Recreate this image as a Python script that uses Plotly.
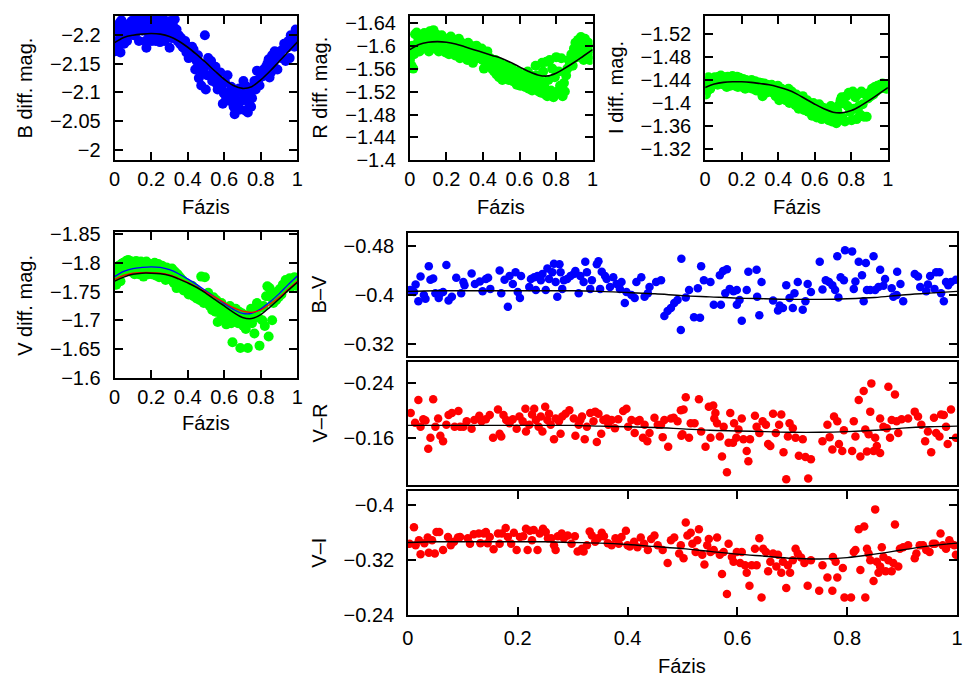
import plotly.graph_objects as go

W, H = 964, 684

# ---------------- data ----------------
PHASE_TOP = [
    0.000,0.004,0.009,0.014,0.018,0.023,0.028,0.032,0.037,0.043,
    0.047,0.052,0.058,0.063,0.068,0.074,0.079,0.086,0.093,0.098,
    0.104,0.109,0.114,0.118,0.124,0.129,0.133,0.138,0.144,0.149,
    0.153,0.158,0.164,0.169,0.174,0.179,0.184,0.189,0.195,0.199,
    0.204,0.208,0.214,0.219,0.224,0.228,0.233,0.239,0.244,0.248,
    0.254,0.259,0.263,0.268,0.274,0.279,0.284,0.289,0.294,0.301,
    0.305,0.309,0.314,0.319,0.324,0.329,0.334,0.339,0.345,0.351,
    0.358,0.364,0.371,0.378,0.386,0.393,0.398,0.405,0.412,0.418,
    0.424,0.432,0.441,0.449,0.456,0.461,0.468,0.474,0.481,0.488,
    0.494,0.499,0.506,0.512,0.521,0.528,0.534,0.541,0.546,0.552,
    0.558,0.564,0.571,0.578,0.585,0.592,0.598,0.604,0.611,0.618,
    0.624,0.631,0.638,0.645,0.651,0.657,0.663,0.669,0.676,0.682,
    0.688,0.694,0.699,0.705,0.711,0.718,0.724,0.729,0.736,0.741,
    0.747,0.752,0.758,0.765,0.772,0.779,0.786,0.793,0.801,0.808,
    0.815,0.822,0.829,0.836,0.843,0.848,0.855,0.862,0.869,0.876,
    0.884,0.891,0.898,0.906,0.913,0.921,0.928,0.936,0.943,0.951,
    0.958,0.964,0.971,0.977,0.984,0.991,0.997]

B_MAG = [
    -2.182,-2.172,-2.190,-2.178,-2.215,-2.205,-2.222,-2.170,-2.226,-2.192,
    -2.215,-2.185,-2.198,-2.212,-2.190,-2.205,-2.220,-2.210,-2.225,-2.215,
    -2.200,-2.228,-2.218,-2.205,-2.222,-2.212,-2.190,-2.225,-2.215,-2.230,
    -2.208,-2.220,-2.235,-2.190,-2.178,-2.212,-2.225,-2.200,-2.230,-2.215,
    -2.190,-2.222,-2.205,-2.228,-2.190,-2.218,-2.200,-2.235,-2.210,-2.188,
    -2.225,-2.215,-2.200,-2.228,-2.190,-2.212,-2.222,-2.200,-2.215,-2.178,
    -2.225,-2.210,-2.195,-2.218,-2.205,-2.228,-2.198,-2.210,-2.190,-2.200,
    -2.185,-2.195,-2.180,-2.178,-2.190,-2.170,-2.180,-2.160,-2.172,-2.165,
    -2.180,-2.175,-2.140,-2.155,-2.165,-2.125,-2.150,-2.112,-2.135,-2.142,
    -2.200,-2.105,-2.130,-2.160,-2.148,-2.155,-2.120,-2.140,-2.130,-2.145,
    -2.115,-2.105,-2.120,-2.135,-2.110,-2.080,-2.098,-2.118,-2.090,-2.130,
    -2.100,-2.085,-2.110,-2.095,-2.075,-2.062,-2.088,-2.100,-2.080,-2.107,
    -2.070,-2.085,-2.100,-2.120,-2.092,-2.068,-2.110,-2.065,-2.080,-2.098,
    -2.075,-2.090,-2.110,-2.120,-2.105,-2.138,-2.122,-2.112,-2.135,-2.128,
    -2.140,-2.130,-2.145,-2.150,-2.158,-2.126,-2.135,-2.165,-2.150,-2.172,
    -2.162,-2.140,-2.165,-2.172,-2.160,-2.175,-2.185,-2.155,-2.178,-2.190,
    -2.160,-2.200,-2.182,-2.195,-2.180,-2.210,-2.188]

R_MAG = [
    -1.575,-1.590,-1.565,-1.600,-1.560,-1.585,-1.620,-1.597,-1.623,-1.605,
    -1.612,-1.590,-1.618,-1.603,-1.615,-1.596,-1.622,-1.610,-1.600,-1.618,
    -1.590,-1.625,-1.605,-1.595,-1.615,-1.627,-1.610,-1.595,-1.620,-1.605,
    -1.615,-1.590,-1.612,-1.600,-1.618,-1.603,-1.595,-1.610,-1.588,-1.605,
    -1.598,-1.612,-1.585,-1.600,-1.616,-1.590,-1.605,-1.595,-1.610,-1.583,
    -1.600,-1.608,-1.590,-1.612,-1.578,-1.598,-1.605,-1.588,-1.596,-1.583,
    -1.600,-1.590,-1.575,-1.605,-1.595,-1.583,-1.600,-1.592,-1.570,-1.595,
    -1.585,-1.600,-1.578,-1.590,-1.582,-1.595,-1.575,-1.560,-1.585,-1.572,
    -1.590,-1.565,-1.578,-1.560,-1.570,-1.555,-1.575,-1.550,-1.565,-1.545,
    -1.570,-1.555,-1.540,-1.560,-1.548,-1.565,-1.552,-1.540,-1.558,-1.545,
    -1.560,-1.538,-1.550,-1.545,-1.532,-1.555,-1.540,-1.530,-1.548,-1.535,
    -1.545,-1.528,-1.540,-1.555,-1.525,-1.535,-1.548,-1.522,-1.540,-1.530,
    -1.565,-1.548,-1.530,-1.520,-1.540,-1.518,-1.570,-1.555,-1.528,-1.515,
    -1.572,-1.512,-1.540,-1.575,-1.522,-1.560,-1.510,-1.545,-1.580,-1.520,
    -1.555,-1.530,-1.578,-1.512,-1.535,-1.520,-1.548,-1.560,-1.575,-1.568,
    -1.585,-1.565,-1.595,-1.605,-1.580,-1.610,-1.590,-1.615,-1.600,-1.575,
    -1.612,-1.590,-1.585,-1.605,-1.575,-1.595,-1.585]

I_MAG = [
    -1.430,-1.415,-1.438,-1.422,-1.445,-1.430,-1.425,-1.440,-1.433,-1.442,
    -1.435,-1.445,-1.438,-1.443,-1.432,-1.446,-1.440,-1.448,-1.436,-1.444,
    -1.432,-1.445,-1.438,-1.428,-1.446,-1.435,-1.442,-1.430,-1.440,-1.447,
    -1.436,-1.443,-1.430,-1.440,-1.446,-1.428,-1.438,-1.444,-1.432,-1.440,
    -1.428,-1.442,-1.435,-1.425,-1.440,-1.432,-1.438,-1.427,-1.436,-1.430,
    -1.440,-1.425,-1.434,-1.430,-1.438,-1.422,-1.432,-1.428,-1.436,-1.420,
    -1.430,-1.435,-1.412,-1.428,-1.434,-1.425,-1.418,-1.432,-1.420,-1.428,
    -1.425,-1.432,-1.418,-1.428,-1.412,-1.422,-1.430,-1.405,-1.418,-1.425,
    -1.410,-1.422,-1.405,-1.415,-1.425,-1.400,-1.412,-1.420,-1.402,-1.410,
    -1.396,-1.415,-1.400,-1.390,-1.408,-1.395,-1.412,-1.388,-1.402,-1.392,
    -1.405,-1.385,-1.398,-1.392,-1.378,-1.400,-1.385,-1.393,-1.375,-1.390,
    -1.398,-1.380,-1.372,-1.392,-1.385,-1.375,-1.390,-1.380,-1.370,-1.385,
    -1.395,-1.368,-1.380,-1.392,-1.372,-1.365,-1.385,-1.378,-1.398,-1.405,
    -1.410,-1.375,-1.402,-1.368,-1.412,-1.395,-1.418,-1.385,-1.370,-1.420,
    -1.390,-1.410,-1.372,-1.415,-1.395,-1.380,-1.420,-1.398,-1.376,-1.415,
    -1.376,-1.408,-1.418,-1.412,-1.425,-1.415,-1.428,-1.420,-1.430,-1.424,
    -1.432,-1.426,-1.434,-1.428,-1.432,-1.425,-1.430]

V_MAG = [
    -1.770,-1.780,-1.762,-1.788,-1.775,-1.795,-1.782,-1.768,-1.798,-1.790,
    -1.800,-1.785,-1.795,-1.803,-1.790,-1.805,-1.795,-1.785,-1.802,-1.793,
    -1.800,-1.780,-1.795,-1.803,-1.788,-1.798,-1.780,-1.795,-1.802,-1.785,
    -1.790,-1.776,-1.795,-1.785,-1.802,-1.790,-1.780,-1.798,-1.786,-1.795,
    -1.780,-1.795,-1.785,-1.800,-1.778,-1.792,-1.785,-1.798,-1.775,-1.790,
    -1.785,-1.795,-1.776,-1.790,-1.782,-1.770,-1.792,-1.780,-1.788,-1.775,
    -1.785,-1.770,-1.790,-1.780,-1.765,-1.785,-1.775,-1.756,-1.780,-1.765,
    -1.775,-1.760,-1.770,-1.752,-1.765,-1.755,-1.762,-1.745,-1.758,-1.750,
    -1.760,-1.742,-1.755,-1.738,-1.750,-1.745,-1.735,-1.776,-1.742,-1.730,
    -1.775,-1.740,-1.730,-1.748,-1.725,-1.735,-1.718,-1.740,-1.725,-1.715,
    -1.735,-1.697,-1.722,-1.712,-1.730,-1.705,-1.720,-1.710,-1.693,-1.715,
    -1.705,-1.725,-1.695,-1.662,-1.712,-1.700,-1.720,-1.708,-1.695,-1.715,
    -1.652,-1.700,-1.712,-1.690,-1.705,-1.685,-1.698,-1.652,-1.710,-1.700,
    -1.720,-1.695,-1.708,-1.677,-1.715,-1.730,-1.705,-1.656,-1.722,-1.700,
    -1.725,-1.690,-1.742,-1.759,-1.672,-1.756,-1.740,-1.700,-1.730,-1.745,
    -1.735,-1.750,-1.740,-1.755,-1.745,-1.762,-1.755,-1.770,-1.760,-1.765,
    -1.773,-1.758,-1.770,-1.762,-1.775,-1.760,-1.765]

FIT_PHASE = [0.00,0.05,0.10,0.15,0.20,0.25,0.30,0.35,0.40,0.45,0.50,
             0.55,0.60,0.65,0.70,0.75,0.80,0.85,0.90,0.95,1.00]
B_FIT = [-2.187,-2.196,-2.200,-2.202,-2.203,-2.202,-2.198,-2.190,-2.179,-2.166,-2.152,
         -2.137,-2.123,-2.112,-2.107,-2.110,-2.122,-2.137,-2.154,-2.171,-2.188]
R_FIT = [-1.593,-1.602,-1.606,-1.607,-1.606,-1.603,-1.598,-1.593,-1.588,-1.583,-1.578,
         -1.571,-1.563,-1.555,-1.549,-1.547,-1.552,-1.561,-1.571,-1.582,-1.593]
I_FIT = [-1.427,-1.433,-1.436,-1.437,-1.437,-1.436,-1.434,-1.432,-1.428,-1.423,-1.416,
         -1.407,-1.398,-1.390,-1.384,-1.383,-1.387,-1.395,-1.405,-1.416,-1.427]
V_FIT_BLACK = [-1.768,-1.775,-1.780,-1.782,-1.782,-1.781,-1.778,-1.772,-1.765,-1.757,-1.747,
               -1.736,-1.725,-1.714,-1.705,-1.703,-1.710,-1.723,-1.737,-1.752,-1.766]
V_FIT_BLUE = [-1.776,-1.785,-1.790,-1.792,-1.793,-1.792,-1.788,-1.781,-1.772,-1.762,-1.751,
              -1.740,-1.729,-1.719,-1.712,-1.712,-1.720,-1.732,-1.746,-1.762,-1.777]
V_FIT_RED = [-1.771,-1.778,-1.782,-1.783,-1.783,-1.782,-1.779,-1.773,-1.766,-1.758,-1.749,
             -1.740,-1.731,-1.722,-1.716,-1.714,-1.718,-1.728,-1.740,-1.754,-1.768]
BV_FIT = [-0.406,-0.407,-0.407,-0.407,-0.407,-0.407,-0.407,-0.406,-0.404,-0.402,-0.399,
          -0.397,-0.395,-0.394,-0.393,-0.393,-0.394,-0.396,-0.400,-0.403,-0.406]
VR_FIT = [-0.178,-0.178,-0.178,-0.178,-0.178,-0.178,-0.178,-0.177,-0.176,-0.175,-0.173,
          -0.171,-0.170,-0.169,-0.168,-0.168,-0.169,-0.171,-0.174,-0.176,-0.177]
VI_FIT = [-0.345,-0.346,-0.346,-0.346,-0.346,-0.346,-0.345,-0.344,-0.342,-0.339,-0.336,
          -0.332,-0.328,-0.325,-0.322,-0.321,-0.323,-0.328,-0.334,-0.340,-0.344]

BV_PHASE = [
    0.004,0.014,0.011,0.019,0.023,0.029,0.032,0.038,0.041,0.046,0.050,0.056,0.059,0.064,0.070,
    0.074,0.080,0.088,0.097,0.101,0.103,0.116,0.122,0.131,0.136,0.142,0.146,0.150,0.167,0.170,
    0.176,0.182,0.185,0.191,0.196,0.200,0.204,0.206,0.221,0.224,0.230,0.233,0.236,0.242,0.245,
    0.251,0.254,0.257,0.263,0.266,0.269,0.272,0.276,0.278,0.281,0.284,0.290,0.296,0.302,0.305,
    0.311,0.314,0.320,0.323,0.326,0.332,0.335,0.344,0.347,0.350,0.353,0.359,0.362,0.368,0.374,
    0.380,0.386,0.389,0.395,0.398,0.407,0.413,0.416,0.425,0.431,0.437,0.440,0.452,0.461,0.467,
    0.473,0.479,0.485,0.491,0.497,0.498,0.506,0.512,0.521,0.528,0.532,0.534,0.539,0.551,0.557,
    0.568,0.570,0.574,0.581,0.578,0.586,0.593,0.599,0.599,0.604,0.608,0.617,0.620,0.635,0.636,
    0.640,0.644,0.665,0.674,0.677,0.683,0.689,0.695,0.701,0.704,0.710,0.719,0.724,0.728,0.734,
    0.750,0.755,0.761,0.767,0.773,0.778,0.782,0.784,0.788,0.794,0.796,0.809,0.812,0.815,0.821,
    0.827,0.830,0.834,0.836,0.842,0.848,0.851,0.857,0.860,0.866,0.869,0.881,0.884,0.890,0.891,
    0.897,0.902,0.923,0.929,0.933,0.944,0.947,0.951,0.959,0.962,0.968,0.971,0.976,0.980,0.984,
    0.989,0.998]
BV_VAL = [
    -0.408,-0.417,-0.405,-0.390,-0.430,-0.400,-0.394,-0.447,-0.425,-0.427,-0.403,-0.395,-0.403,-0.405,-0.449,
    -0.391,-0.397,-0.428,-0.403,-0.421,-0.416,-0.435,-0.418,-0.422,-0.406,-0.426,-0.428,-0.410,-0.440,-0.403,
    -0.425,-0.381,-0.431,-0.418,-0.437,-0.405,-0.395,-0.431,-0.413,-0.426,-0.429,-0.408,-0.431,-0.424,-0.434,
    -0.408,-0.443,-0.426,-0.437,-0.451,-0.421,-0.397,-0.450,-0.437,-0.410,-0.424,-0.426,-0.431,-0.434,-0.439,
    -0.403,-0.431,-0.421,-0.454,-0.437,-0.410,-0.424,-0.450,-0.455,-0.410,-0.438,-0.431,-0.426,-0.413,-0.429,
    -0.418,-0.410,-0.421,-0.387,-0.405,-0.400,-0.395,-0.421,-0.429,-0.397,-0.403,-0.413,-0.421,-0.424,-0.366,
    -0.374,-0.379,-0.387,-0.392,-0.343,-0.459,-0.396,-0.408,-0.364,-0.411,-0.363,-0.447,-0.424,-0.421,-0.384,
    -0.432,-0.384,-0.439,-0.442,-0.403,-0.410,-0.406,-0.408,-0.384,-0.392,-0.358,-0.408,-0.438,-0.441,-0.397,
    -0.367,-0.421,-0.391,-0.375,-0.383,-0.379,-0.416,-0.395,-0.379,-0.403,-0.421,-0.376,-0.390,-0.418,-0.405,
    -0.454,-0.409,-0.424,-0.421,-0.416,-0.408,-0.463,-0.396,-0.429,-0.424,-0.473,-0.471,-0.410,-0.422,-0.454,
    -0.432,-0.390,-0.452,-0.408,-0.408,-0.463,-0.408,-0.413,-0.441,-0.415,-0.426,-0.411,-0.397,-0.400,-0.438,
    -0.418,-0.390,-0.434,-0.430,-0.413,-0.406,-0.417,-0.431,-0.410,-0.437,-0.437,-0.403,-0.390,-0.421,-0.416,
    -0.421,-0.425]

VR_PHASE = [
    0.005,0.013,0.019,0.023,0.028,0.032,0.037,0.041,0.046,0.050,0.055,0.059,0.064,0.070,0.074,
    0.080,0.085,0.092,0.095,0.101,0.107,0.116,0.121,0.130,0.134,0.142,0.149,0.155,0.164,0.167,
    0.170,0.174,0.179,0.185,0.191,0.198,0.203,0.209,0.214,0.215,0.221,0.226,0.230,0.233,0.238,
    0.242,0.245,0.250,0.254,0.257,0.260,0.266,0.269,0.275,0.278,0.281,0.287,0.294,0.302,0.305,
    0.311,0.314,0.317,0.322,0.326,0.332,0.338,0.341,0.344,0.347,0.352,0.356,0.362,0.365,0.371,
    0.377,0.383,0.392,0.398,0.401,0.407,0.413,0.418,0.422,0.428,0.431,0.436,0.440,0.449,0.455,
    0.461,0.464,0.467,0.474,0.479,0.484,0.491,0.497,0.498,0.500,0.502,0.506,0.512,0.515,0.522,
    0.530,0.534,0.542,0.548,0.551,0.556,0.558,0.560,0.563,0.568,0.572,0.575,0.581,0.584,0.587,
    0.592,0.594,0.598,0.602,0.608,0.611,0.617,0.620,0.623,0.632,0.635,0.640,0.646,0.652,0.656,
    0.660,0.665,0.670,0.676,0.680,0.684,0.689,0.692,0.695,0.701,0.706,0.712,0.719,0.724,0.729,
    0.734,0.755,0.764,0.768,0.773,0.776,0.782,0.785,0.791,0.794,0.809,0.812,0.815,0.821,0.824,
    0.830,0.833,0.836,0.839,0.842,0.844,0.848,0.851,0.854,0.860,0.860,0.866,0.872,0.875,0.878,
    0.881,0.887,0.890,0.893,0.899,0.911,0.923,0.929,0.935,0.942,0.947,0.953,0.958,0.962,0.968,
    0.971,0.976,0.980,0.983,0.989,0.998]
VR_VAL = [
    -0.196,-0.182,-0.215,-0.176,-0.187,-0.185,-0.144,-0.160,-0.216,-0.176,-0.188,-0.163,-0.155,-0.179,-0.193,
    -0.196,-0.176,-0.199,-0.176,-0.176,-0.184,-0.173,-0.186,-0.192,-0.184,-0.187,-0.193,-0.160,-0.201,-0.166,
    -0.162,-0.193,-0.186,-0.181,-0.187,-0.173,-0.191,-0.184,-0.202,-0.169,-0.179,-0.194,-0.202,-0.186,-0.176,
    -0.191,-0.169,-0.205,-0.186,-0.195,-0.179,-0.158,-0.188,-0.184,-0.166,-0.191,-0.195,-0.200,-0.188,-0.163,
    -0.179,-0.186,-0.191,-0.158,-0.176,-0.196,-0.184,-0.198,-0.154,-0.195,-0.166,-0.186,-0.188,-0.179,-0.186,
    -0.174,-0.187,-0.199,-0.202,-0.176,-0.186,-0.167,-0.184,-0.186,-0.160,-0.179,-0.155,-0.167,-0.189,-0.179,
    -0.179,-0.161,-0.186,-0.147,-0.188,-0.189,-0.184,-0.200,-0.163,-0.165,-0.201,-0.219,-0.160,-0.181,-0.181,
    -0.216,-0.169,-0.147,-0.205,-0.160,-0.207,-0.188,-0.196,-0.181,-0.162,-0.133,-0.176,-0.110,-0.153,-0.196,
    -0.153,-0.181,-0.160,-0.172,-0.188,-0.158,-0.141,-0.126,-0.158,-0.192,-0.176,-0.167,-0.184,-0.179,-0.151,
    -0.148,-0.195,-0.167,-0.179,-0.194,-0.139,-0.100,-0.162,-0.181,-0.174,-0.160,-0.134,-0.158,-0.132,-0.101,
    -0.129,-0.155,-0.179,-0.161,-0.143,-0.191,-0.184,-0.151,-0.141,-0.171,-0.141,-0.184,-0.162,-0.215,-0.133,
    -0.228,-0.172,-0.140,-0.165,-0.198,-0.239,-0.141,-0.160,-0.148,-0.138,-0.188,-0.176,-0.174,-0.234,-0.160,
    -0.186,-0.223,-0.184,-0.167,-0.187,-0.188,-0.198,-0.191,-0.179,-0.155,-0.169,-0.139,-0.189,-0.167,-0.162,
    -0.194,-0.193,-0.176,-0.151,-0.201,-0.160]

VI_PHASE = [
    0.003,0.011,0.014,0.020,0.023,0.030,0.036,0.038,0.044,0.049,0.052,0.057,0.064,0.073,0.078,
    0.084,0.091,0.095,0.109,0.113,0.120,0.129,0.132,0.138,0.142,0.145,0.149,0.156,0.164,0.167,
    0.171,0.178,0.182,0.188,0.193,0.198,0.204,0.210,0.215,0.218,0.222,0.226,0.229,0.236,0.240,
    0.246,0.251,0.255,0.261,0.266,0.269,0.273,0.280,0.284,0.291,0.298,0.304,0.309,0.317,0.320,
    0.326,0.331,0.335,0.341,0.346,0.353,0.357,0.364,0.371,0.378,0.384,0.389,0.397,0.400,0.404,
    0.437,0.443,0.449,0.455,0.464,0.473,0.479,0.485,0.494,0.497,0.502,0.506,0.509,0.515,0.518,
    0.524,0.527,0.530,0.536,0.540,0.545,0.548,0.551,0.557,0.563,0.568,0.572,0.575,0.581,0.584,
    0.590,0.593,0.599,0.605,0.608,0.614,0.617,0.622,0.626,0.632,0.635,0.640,0.644,0.647,0.652,
    0.656,0.660,0.665,0.671,0.674,0.680,0.683,0.689,0.692,0.696,0.701,0.706,0.710,0.716,0.722,
    0.728,0.734,0.749,0.755,0.764,0.773,0.774,0.779,0.782,0.792,0.795,0.807,0.812,0.815,0.821,
    0.824,0.831,0.833,0.836,0.839,0.842,0.848,0.851,0.854,0.857,0.860,0.863,0.866,0.870,0.875,
    0.881,0.884,0.887,0.893,0.896,0.902,0.911,0.923,0.926,0.932,0.938,0.944,0.950,0.956,0.960,
    0.970,0.974,0.980,0.986,0.989,0.995,0.998,
    0.412,0.418,0.424,0.430]
VI_VAL = [
    -0.343,-0.367,-0.341,-0.348,-0.328,-0.344,-0.352,-0.330,-0.348,-0.329,-0.360,-0.360,-0.334,-0.353,-0.341,
    -0.346,-0.352,-0.353,-0.351,-0.343,-0.357,-0.358,-0.344,-0.358,-0.360,-0.344,-0.353,-0.335,-0.358,-0.343,
    -0.358,-0.366,-0.353,-0.343,-0.359,-0.334,-0.353,-0.354,-0.365,-0.334,-0.362,-0.348,-0.363,-0.334,-0.358,
    -0.365,-0.360,-0.351,-0.351,-0.341,-0.334,-0.354,-0.358,-0.351,-0.355,-0.343,-0.354,-0.332,-0.336,-0.332,
    -0.341,-0.361,-0.355,-0.346,-0.351,-0.359,-0.354,-0.344,-0.341,-0.351,-0.343,-0.353,-0.362,-0.341,-0.339,
    -0.334,-0.350,-0.355,-0.341,-0.334,-0.315,-0.348,-0.352,-0.329,-0.341,-0.322,-0.374,-0.355,-0.359,-0.343,
    -0.331,-0.348,-0.364,-0.327,-0.313,-0.341,-0.350,-0.331,-0.334,-0.352,-0.327,-0.299,-0.331,-0.270,-0.343,
    -0.324,-0.317,-0.331,-0.315,-0.331,-0.312,-0.301,-0.282,-0.312,-0.336,-0.312,-0.351,-0.265,-0.336,-0.331,
    -0.303,-0.317,-0.329,-0.310,-0.327,-0.301,-0.317,-0.279,-0.312,-0.301,-0.319,-0.336,-0.329,-0.323,-0.315,
    -0.282,-0.319,-0.275,-0.312,-0.294,-0.275,-0.324,-0.317,-0.294,-0.308,-0.265,-0.265,-0.331,-0.334,-0.364,
    -0.305,-0.368,-0.265,-0.336,-0.329,-0.319,-0.289,-0.393,-0.317,-0.301,-0.310,-0.338,-0.324,-0.303,-0.319,
    -0.303,-0.315,-0.371,-0.310,-0.336,-0.338,-0.341,-0.322,-0.329,-0.341,-0.341,-0.334,-0.331,-0.343,-0.343,
    -0.358,-0.341,-0.336,-0.348,-0.343,-0.341,-0.327,
    -0.346,-0.338,-0.352,-0.343]

X_TICKS = [0, 0.2, 0.4, 0.6, 0.8, 1]
X_TICKTEXT = ["0", "0.2", "0.4", "0.6", "0.8", "1"]
B_TICKS = [-2.2, -2.15, -2.1, -2.05, -2.0]
B_TICKTEXT = ["\u22122.2", "\u22122.15", "\u22122.1", "\u22122.05", "\u22122"]
R_TICKS = [-1.64, -1.6, -1.56, -1.52, -1.48, -1.44, -1.4]
R_TICKTEXT = ["\u22121.64", "\u22121.6", "\u22121.56", "\u22121.52", "\u22121.48", "\u22121.44", "\u22121.4"]
I_TICKS = [-1.52, -1.48, -1.44, -1.4, -1.36, -1.32]
I_TICKTEXT = ["\u22121.52", "\u22121.48", "\u22121.44", "\u22121.4", "\u22121.36", "\u22121.32"]
V_TICKS = [-1.85, -1.8, -1.75, -1.7, -1.65, -1.6]
V_TICKTEXT = ["\u22121.85", "\u22121.8", "\u22121.75", "\u22121.7", "\u22121.65", "\u22121.6"]
BV_TICKS = [-0.48, -0.4, -0.32]
BV_TICKTEXT = ["\u22120.48", "\u22120.4", "\u22120.32"]
VR_TICKS = [-0.24, -0.16]
VR_TICKTEXT = ["\u22120.24", "\u22120.16"]
VI_TICKS = [-0.4, -0.32, -0.24]
VI_TICKTEXT = ["\u22120.4", "\u22120.32", "\u22120.24"]

# ---------------- styling / layout ----------------
FONT = "Liberation Sans, Arial, Helvetica, sans-serif"
FS = 20
BLUE, GREEN, RED = "#0000ff", "#00ff00", "#ff0000"

# panel boxes in pixels: (x0, x1, ytop, ybottom)
boxes = {
    1: (110, 295, 7, 156),
    2: (409, 594, 7, 156),
    3: (708, 893, 7, 156),
    4: (110, 295, 230, 380),
    5: (407, 963, 231, 357),
    6: (407, 963, 364, 490),
    7: (407, 963, 497, 624),
}
yranges = {
    1: [-1.981, -2.234],
    2: [-1.400, -1.652],
    3: [-1.300, -1.552],
    4: [-1.600, -1.853],
    5: [-0.3015, -0.5005],
    6: [-0.0920, -0.2695],
    7: [-0.240, -0.419],
}
yticks = {1: (B_TICKS, B_TICKTEXT), 2: (R_TICKS, R_TICKTEXT), 3: (I_TICKS, I_TICKTEXT),
          4: (V_TICKS, V_TICKTEXT), 5: (BV_TICKS, BV_TICKTEXT), 6: (VR_TICKS, VR_TICKTEXT),
          7: (VI_TICKS, VI_TICKTEXT)}

fig = go.Figure()

def key(i):
    return "" if i == 1 else str(i)

def add_points(i, x, y, color, size):
    fig.add_trace(go.Scatter(x=x, y=y, mode="markers",
                             marker=dict(color=color, size=size, line=dict(width=0)),
                             xaxis="x" + key(i), yaxis="y" + key(i),
                             showlegend=False, hoverinfo="skip"))

def add_curve(i, x, y, color, width=1.6):
    fig.add_trace(go.Scatter(x=x, y=y, mode="lines",
                             line=dict(color=color, width=width, shape="spline", smoothing=1.0),
                             xaxis="x" + key(i), yaxis="y" + key(i),
                             showlegend=False, hoverinfo="skip"))

add_points(1, PHASE_TOP, B_MAG, BLUE, 10)
add_curve(1, FIT_PHASE, B_FIT, "black")
add_points(2, PHASE_TOP, R_MAG, GREEN, 10)
add_curve(2, FIT_PHASE, R_FIT, "black")
add_points(3, PHASE_TOP, I_MAG, GREEN, 10)
add_curve(3, FIT_PHASE, I_FIT, "black")
add_points(4, PHASE_TOP, V_MAG, GREEN, 10)
add_curve(4, FIT_PHASE, V_FIT_BLUE, BLUE, 1.3)
add_curve(4, FIT_PHASE, V_FIT_RED, RED, 1.3)
add_curve(4, FIT_PHASE, V_FIT_BLACK, "black", 1.5)
add_points(5, BV_PHASE, BV_VAL, BLUE, 8.5)
add_curve(5, FIT_PHASE, BV_FIT, "black", 1.4)
add_points(6, VR_PHASE, VR_VAL, RED, 8.5)
add_curve(6, FIT_PHASE, VR_FIT, "black", 1.4)
add_points(7, VI_PHASE, VI_VAL, RED, 8.5)
add_curve(7, FIT_PHASE, VI_FIT, "black", 1.4)

layout = dict(width=W, height=H, margin=dict(l=0, r=0, t=0, b=0),
              paper_bgcolor="white", plot_bgcolor="white", showlegend=False,
              font=dict(family=FONT, size=FS, color="black"))

for i, (x0, x1, yt, yb) in boxes.items():
    has_xticks = i in (1, 2, 3, 4, 7)
    lw = 2 if i <= 4 else 1.5
    xa = dict(domain=[x0 / W, x1 / W], range=[0, 1], anchor="y" + key(i),
              showline=True, linecolor="black", linewidth=lw,
              mirror="ticks" if has_xticks else True,
              ticks="inside" if has_xticks else "", ticklen=8, tickwidth=1.5, tickcolor="black",
              tickmode="array", tickvals=X_TICKS, ticktext=X_TICKTEXT,
              showticklabels=has_xticks, showgrid=False, zeroline=False,
              tickfont=dict(family=FONT, size=FS, color="black"),
              ticklabelstandoff=(4 if i == 7 else 0))
    tv, tt = yticks[i]
    ya = dict(domain=[1 - yb / H, 1 - yt / H], range=yranges[i], anchor="x" + key(i),
              showline=True, linecolor="black", linewidth=lw, mirror="ticks",
              ticks="inside", ticklen=8, tickwidth=1.5, tickcolor="black",
              tickmode="array", tickvals=tv, ticktext=tt,
              showgrid=False, zeroline=False,
              tickfont=dict(family=FONT, size=FS, color="black"), ticklabelstandoff=8)
    layout["xaxis" + key(i)] = xa
    layout["yaxis" + key(i)] = ya

def ann(text, px, py, angle=0, yanchor="middle", yshift=0):
    return dict(text=text, x=px / W, y=1 - py / H, xref="paper", yref="paper",
                showarrow=False, textangle=angle, xanchor="center", yanchor=yanchor,
                yshift=yshift, font=dict(family=FONT, size=FS, color="black"))

annotations = [
    ann("B diff. mag.", 19, 81, -90),
    ann("R diff. mag.", 318, 81, -90),
    ann("I diff. mag.", 617, 81, -90),
    ann("V diff. mag.", 19, 305, -90),
    ann("B\u2013V", 317, 294, -90),
    ann("V\u2013R", 317, 427, -90),
    ann("V\u2013I", 317, 560, -90),
    ann("Fázis", 202.5, 204),
    ann("Fázis", 501.5, 204),
    ann("Fázis", 800.5, 204),
    ann("Fázis", 202.5, 426),
    ann("Fázis", 685, 684, 0, "bottom", -6),
]
layout["annotations"] = annotations

fig.update_layout(**layout)
fig.write_html("out.html")
